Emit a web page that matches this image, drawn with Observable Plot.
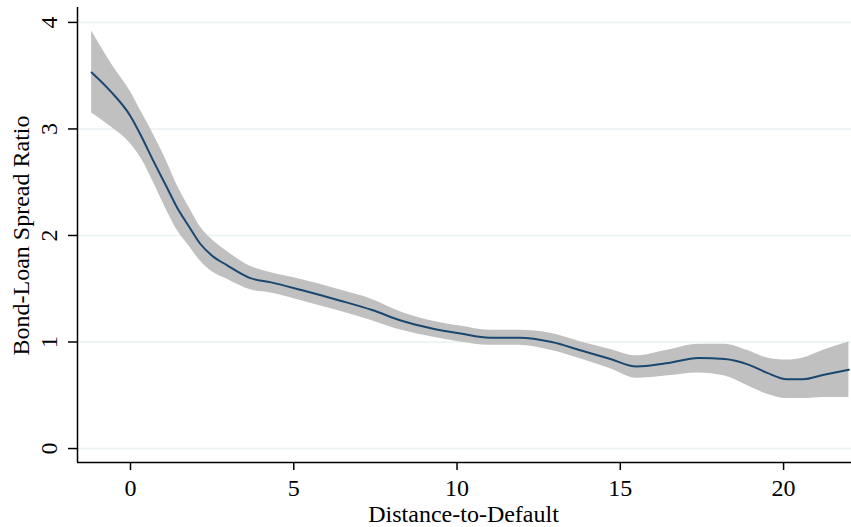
<!DOCTYPE html>
<html>
<head>
<meta charset="utf-8">
<script src="https://cdn.jsdelivr.net/npm/d3@7"></script>
<script src="https://cdn.jsdelivr.net/npm/@observablehq/plot@0.6"></script>
<style>
  html, body { margin: 0; padding: 0; background: #fff; }
</style>
</head>
<body>
<div id="chart"></div>
<script>
const dtd = [-1.19, -0.6, 0.0, 0.35, 0.7, 1.1, 1.43, 1.8, 2.14, 2.5, 2.96, 3.67, 4.3, 5.2, 6.4, 7.4, 8.3, 9.2, 10.1, 11.0, 11.9, 12.9, 13.8, 14.7, 15.5, 16.4, 17.4, 18.2, 18.9, 19.5, 20.1, 20.6, 21.2, 22.0];
const fit = [3.53, 3.35, 3.12, 2.92, 2.70, 2.46, 2.26, 2.08, 1.92, 1.81, 1.72, 1.60, 1.56, 1.49, 1.39, 1.30, 1.20, 1.13, 1.08, 1.04, 1.04, 1.00, 0.92, 0.84, 0.77, 0.80, 0.85, 0.84, 0.79, 0.71, 0.65, 0.65, 0.69, 0.74];
const hi  = [3.92, 3.62, 3.35, 3.15, 2.95, 2.70, 2.47, 2.26, 2.08, 1.96, 1.85, 1.71, 1.65, 1.59, 1.49, 1.40, 1.28, 1.20, 1.15, 1.11, 1.11, 1.08, 1.00, 0.93, 0.87, 0.92, 0.98, 0.98, 0.92, 0.85, 0.83, 0.85, 0.92, 1.00];
const lo  = [3.15, 3.02, 2.86, 2.71, 2.50, 2.24, 2.05, 1.90, 1.76, 1.66, 1.59, 1.49, 1.46, 1.39, 1.29, 1.20, 1.11, 1.05, 1.00, 0.97, 0.97, 0.92, 0.84, 0.75, 0.66, 0.68, 0.71, 0.68, 0.59, 0.51, 0.47, 0.47, 0.48, 0.48];
const xTicks = [0, 5, 10, 15, 20];
const yTicks = [0, 1, 2, 3, 4];
const xTitle = "Distance-to-Default";
const yTitle = "Bond-Loan Spread Ratio";

const rows = dtd.map((x, i) => ({x, fit: fit[i], lo: lo[i], hi: hi[i]}));
const xDomain = [-1.623, 22.08];
const yDomain = [-0.131, 4.14];
const font = "'Liberation Serif', 'Times New Roman', serif";
const fs = 24;

const chart = Plot.plot({
  width: 851,
  height: 527,
  marginLeft: 77,
  marginRight: 0,
  marginTop: 7,
  marginBottom: 65,
  style: {fontFamily: font, fontSize: fs + "px", color: "#000", background: "#fff"},
  x: {domain: xDomain},
  y: {domain: yDomain},
  marks: [
    Plot.gridY(yTicks, {stroke: "#eaf2f3", strokeOpacity: 1, strokeWidth: 1.5}),
    Plot.areaY(rows, {x: "x", y1: "lo", y2: "hi", fill: "#c0c0c0", curve: "monotone-x"}),
    Plot.line(rows, {x: "x", y: "fit", stroke: "#1a476f", strokeWidth: 2, curve: "monotone-x"}),
    Plot.ruleX([xDomain[0]], {stroke: "#000", strokeWidth: 1.5}),
    Plot.ruleY([yDomain[0]], {stroke: "#000", strokeWidth: 1.5}),
    Plot.axisY({ticks: yTicks, tickSize: 9, tickFormat: () => "", label: null, stroke: "#000", strokeWidth: 1.5}),
    Plot.axisX({ticks: xTicks, tickSize: 8, tickFormat: () => "", label: null, stroke: "#000", strokeWidth: 1.5}),
    Plot.text(yTicks, {y: d => d, text: d => String(d), frameAnchor: "left", dx: -28, rotate: -90, textAnchor: "middle", lineAnchor: "middle", fontSize: fs, fill: "#000"}),
    Plot.text(xTicks, {x: d => d, text: d => String(d), frameAnchor: "bottom", dy: 26, textAnchor: "middle", lineAnchor: "middle", fontSize: fs, fill: "#000"}),
    Plot.text([xTitle], {frameAnchor: "bottom", x: () => 10.2, text: d => d, dy: 52, textAnchor: "middle", lineAnchor: "middle", fontSize: fs, fill: "#000"}),
    Plot.text([yTitle], {frameAnchor: "left", y: () => 2.0, text: d => d, dx: -56, rotate: -90, textAnchor: "middle", lineAnchor: "middle", fontSize: fs, fill: "#000"})
  ]
});
document.getElementById("chart").appendChild(chart);
</script>
</body>
</html>
